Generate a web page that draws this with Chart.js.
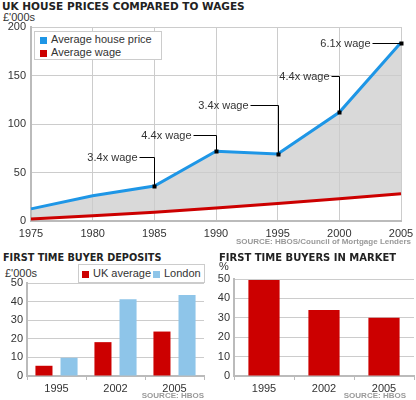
<!DOCTYPE html>
<html>
<head>
<meta charset="utf-8">
<script src="https://cdn.jsdelivr.net/npm/chart.js@4.4.1/dist/chart.umd.min.js"></script>
<style>
body{margin:0;width:416px;height:400px;background:#fff;position:relative;overflow:hidden;font-family:"Liberation Sans",Arial,sans-serif;color:#333}
.box{position:absolute}
.title{position:absolute;font-family:"DejaVu Sans",Verdana,sans-serif;font-weight:bold;font-size:10.5px;color:#222;white-space:nowrap}
.unit{position:absolute;font-size:11px;color:#333}
.src{position:absolute;font-weight:bold;font-size:8px;color:#999;white-space:nowrap}
.legend{position:absolute;border:1px solid #ccc;background:#fff;font-size:11px;color:#333;white-space:nowrap}
.legend span.sq{display:inline-block;width:7px;height:7px;vertical-align:middle;margin-right:4px}
</style>
</head>
<body>
<div class="title" style="left:2px;top:0px">UK HOUSE PRICES COMPARED TO WAGES</div>
<div class="unit" style="left:3px;top:11px">£'000s</div>
<div class="box" style="left:0;top:0;width:416px;height:250px"><canvas id="priceChart"></canvas></div>
<div class="legend" style="left:34px;top:31px;width:126px;height:27px;padding:0">
  <div style="position:absolute;left:5px;top:1px"><span class="sq" style="background:#1e96e6"></span>Average house price</div>
  <div style="position:absolute;left:5px;top:14px"><span class="sq" style="background:#cc0000"></span>Average wage</div>
</div>
<div class="src" style="right:5px;top:237px">SOURCE: HBOS/Council of Mortgage Lenders</div>

<div class="title" style="left:3px;top:252px;font-size:9.7px">FIRST TIME BUYER DEPOSITS</div>
<div class="unit" style="left:5px;top:267px">£'000s</div>
<div class="box" style="left:0;top:250px;width:208px;height:150px"><canvas id="depositChart"></canvas></div>
<div class="legend" style="left:78px;top:264px;width:125px;height:17px">
  <div style="position:absolute;left:3px;top:2px"><span class="sq" style="background:#cc0000"></span>UK average</div>
  <div style="position:absolute;left:74px;top:2px"><span class="sq" style="background:#8ec5e9"></span>London</div>
</div>
<div class="src" style="right:212px;top:391px">SOURCE: HBOS</div>

<div class="title" style="left:219px;top:252px;font-size:10px">FIRST TIME BUYERS IN MARKET</div>
<div class="unit" style="left:219px;top:260px">%</div>
<div class="box" style="left:208px;top:250px;width:208px;height:150px"><canvas id="marketChart"></canvas></div>
<div class="src" style="right:10px;top:391px">SOURCE: HBOS</div>

<script>
// top chart data
var years = ['1975', '1980', '1985', '1990', '1995', '2000', '2005'];
var housePrice = [12.5, 26, 36, 72, 69, 112, 184];
var wage = [2, 5.5, 9, 13.5, 18, 23, 28];
var multiples = [null, null, '3.4x wage', '4.4x wage', '3.4x wage', '4.4x wage', '6.1x wage'];

// bottom charts data
var depositYears = ['1995', '2002', '2005'];
var ukDeposit = [5.5, 18.2, 23.9];
var londonDeposit = [9.8, 41.2, 43.6];
var buyerYears = ['1995', '2002', '2005'];
var buyerShare = [49.5, 34, 30];

var tickFont = {family: '"Liberation Sans", Arial, sans-serif', size: 11};
Chart.defaults.color = '#333';
Chart.defaults.font = tickFont;

// leader lines for the "x wage" labels: [up, left] in px
var leaderOffsets = {2: [29, 15], 3: [16, 23], 4: [49, 28], 5: [36, 8], 6: [0, 29]};

var leaderPlugin = {
    id: 'leaders',
    afterDatasetsDraw: function(chart) {
        var ctx = chart.ctx;
        var meta = chart.getDatasetMeta(0);
        ctx.save();
        ctx.strokeStyle = '#000';
        ctx.lineWidth = 1;
        ctx.font = '11px "Liberation Sans", Arial, sans-serif';
        ctx.textAlign = 'right';
        ctx.textBaseline = 'middle';
        multiples.forEach(function(label, i) {
            if (!label) return;
            var pt = meta.data[i];
            var off = leaderOffsets[i];
            var x = Math.round(pt.x) + 0.5, y = Math.round(pt.y);
            var ey = y - off[0] + 0.5;
            ctx.beginPath();
            ctx.moveTo(x, y);
            ctx.lineTo(x, ey);
            ctx.lineTo(x - off[1], ey);
            ctx.stroke();
            ctx.fillStyle = '#000';
            ctx.fillRect(Math.round(pt.x) - 1.5, y - 1.5, 4, 4);
            ctx.fillStyle = '#333';
            ctx.fillText(label, x - off[1] - 2, ey);
        });
        ctx.restore();
    }
};

new Chart(document.getElementById('priceChart'), {
    type: 'line',
    data: {
        labels: years,
        datasets: [{
            label: 'Average house price',
            data: housePrice,
            borderColor: '#1e96e6',
            backgroundColor: '#d9d9d9',
            borderWidth: 3,
            pointRadius: 0,
            tension: 0,
            fill: 1
        }, {
            label: 'Average wage',
            data: wage,
            borderColor: '#cc0000',
            borderWidth: 3,
            pointRadius: 0,
            tension: 0,
            fill: false
        }]
    },
    options: {
        responsive: true,
        maintainAspectRatio: false,
        animation: false,
        layout: {padding: {left: 0, right: 15, top: 27, bottom: 0}},
        plugins: {
            legend: {display: false},
            tooltip: {enabled: false},
            filler: {drawTime: 'beforeDraw'}
        },
        scales: {
            x: {
                offset: false,
                grid: {color: '#ccc', drawTicks: false},
                border: {color: '#bbb', width: 2},
                ticks: {padding: 6, maxRotation: 0},
                afterFit: function(s) { s.height = 29; s.paddingRight = 0; s.paddingLeft = 0; }
            },
            y: {
                min: 0,
                max: 200,
                ticks: {stepSize: 50, padding: 5},
                grid: {color: '#ccc', drawTicks: false},
                border: {color: '#bbb', width: 2},
                afterFit: function(s) { s.width = 31; }
            }
        }
    },
    plugins: [leaderPlugin]
});

new Chart(document.getElementById('depositChart'), {
    type: 'bar',
    data: {
        labels: depositYears,
        datasets: [{
            label: 'UK average',
            data: ukDeposit,
            backgroundColor: '#cc0000',
            categoryPercentage: 0.85,
            barPercentage: 0.68
        }, {
            label: 'London',
            data: londonDeposit,
            backgroundColor: '#8ec5e9',
            categoryPercentage: 0.85,
            barPercentage: 0.68
        }]
    },
    options: {
        responsive: true,
        maintainAspectRatio: false,
        animation: false,
        layout: {padding: {left: 0, right: 4, top: 33, bottom: 0}},
        plugins: {legend: {display: false}, tooltip: {enabled: false}},
        scales: {
            x: {
                grid: {drawOnChartArea: false, color: '#bbb', tickLength: 4},
                border: {color: '#bbb', width: 2},
                ticks: {padding: 2},
                afterFit: function(s) { s.height = 24; }
            },
            y: {
                min: 0,
                max: 50,
                ticks: {stepSize: 10, padding: 4},
                grid: {color: '#ccc', drawTicks: false},
                border: {color: '#bbb', width: 2},
                afterFit: function(s) { s.width = 27; }
            }
        }
    }
});

new Chart(document.getElementById('marketChart'), {
    type: 'bar',
    data: {
        labels: buyerYears,
        datasets: [{
            label: 'First time buyers',
            data: buyerShare,
            backgroundColor: '#cc0000',
            categoryPercentage: 1,
            barPercentage: 0.52
        }]
    },
    options: {
        responsive: true,
        maintainAspectRatio: false,
        animation: false,
        layout: {padding: {left: 0, right: 2, top: 29, bottom: 0}},
        plugins: {legend: {display: false}, tooltip: {enabled: false}},
        scales: {
            x: {
                grid: {drawOnChartArea: false, color: '#bbb', tickLength: 4},
                border: {color: '#bbb', width: 2},
                ticks: {padding: 2},
                afterFit: function(s) { s.height = 24; }
            },
            y: {
                min: 0,
                max: 50,
                ticks: {stepSize: 10, padding: 4},
                grid: {color: '#ccc', drawTicks: false},
                border: {color: '#bbb', width: 2},
                afterFit: function(s) { s.width = 26; }
            }
        }
    }
});
</script>
</body>
</html>
